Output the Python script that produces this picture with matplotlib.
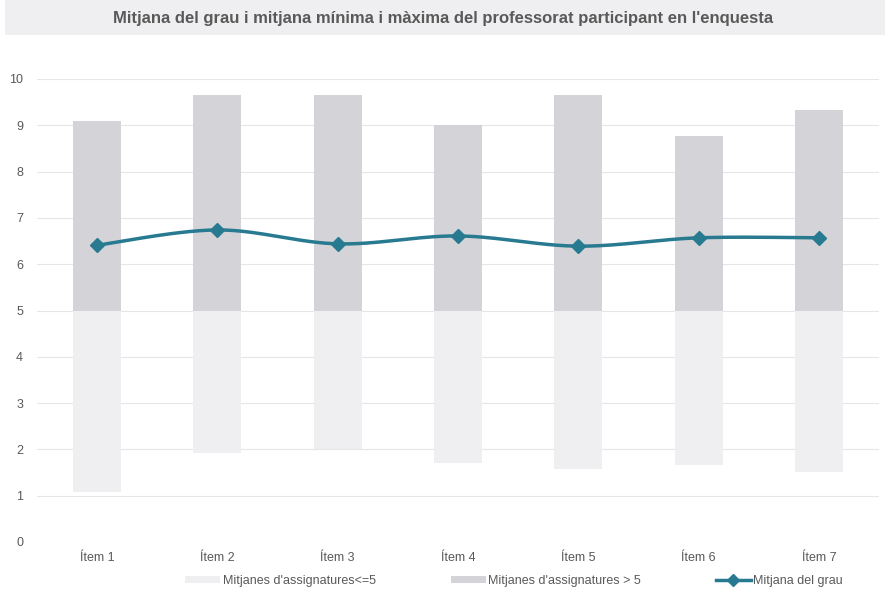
import numpy as np
import matplotlib
matplotlib.use("Agg")
import matplotlib.pyplot as plt
from matplotlib.lines import Line2D
from matplotlib.patches import Patch

plt.rcParams['font.family'] = ['Liberation Sans', 'DejaVu Sans']

categories = ["Ítem 1", "Ítem 2", "Ítem 3", "Ítem 4", "Ítem 5", "Ítem 6", "Ítem 7"]
min_mean = [1.08, 1.92, 2.0, 1.71, 1.58, 1.66, 1.51]
max_mean = [9.09, 9.65, 9.65, 9.0, 9.65, 8.77, 9.33]
grade_mean = [6.41, 6.74, 6.44, 6.61, 6.39, 6.57, 6.57]
threshold = 5
yticks = list(range(0, 11))

c_low = "#EFEFF1"
c_high = "#D4D4D8"
c_line = "#287A91"
c_text = "#595959"

fig = plt.figure(figsize=(8.87, 5.89), dpi=100)
# title band
fig.patches.append(plt.Rectangle((5/887, 1-35/589), 880/887, 35/589, transform=fig.transFigure,
                                 facecolor="#EFEFF1", edgecolor="none", zorder=0))
fig.text(0.5, 1-18/589, "Mitjana del grau i mitjana mínima i màxima del professorat participant en l'enquesta",
         ha="center", va="center", fontsize=12, fontweight="bold", color=c_text)

ax = fig.add_axes([37/887, 1-542/589, (879-37)/887, (542-79)/589])
x = np.arange(len(categories))
mn = np.array(min_mean)
mx = np.array(max_mean)
w = 0.4
ax.bar(x, threshold - mn, bottom=mn, width=w, color=c_low, zorder=2)
ax.bar(x, mx - threshold, bottom=threshold, width=w, color=c_high, zorder=2)

# smooth (Catmull-Rom) line through the means
def catmull(xs, ys, n=30):
    xs = np.asarray(xs, float); ys = np.asarray(ys, float)
    px = np.concatenate([[xs[0]], xs, [xs[-1]]])
    py = np.concatenate([[ys[0]], ys, [ys[-1]]])
    ox, oy = [], []
    for i in range(1, len(px) - 2):
        t = np.linspace(0, 1, n)
        p0, p1, p2, p3 = [(px[j], py[j]) for j in (i-1, i, i+1, i+2)]
        for k, arr in ((0, ox), (1, oy)):
            a0, a1, a2, a3 = p0[k], p1[k], p2[k], p3[k]
            v = 0.5 * ((2*a1) + (-a0 + a2)*t + (2*a0 - 5*a1 + 4*a2 - a3)*t**2 + (-a0 + 3*a1 - 3*a2 + a3)*t**3)
            arr.extend(v)
    return np.array(ox), np.array(oy)

sx, sy = catmull(x, grade_mean)
ax.plot(sx, sy, color=c_line, lw=2.5, zorder=3, solid_capstyle="round")
ax.plot(x, grade_mean, ls="none", marker="D", ms=7, color=c_line, zorder=4)

ax.set_xlim(-0.5, len(categories) - 0.5)
ax.set_ylim(0, 10)
ax.set_yticks(yticks)
ax.set_xticks(x)
ax.set_xticklabels(categories)
ax.grid(axis="y", color="#E6E6E6", lw=0.8, zorder=0)
ax.set_axisbelow(True)
for s in ax.spines.values():
    s.set_visible(False)
ax.tick_params(axis="both", length=0, labelsize=9, colors=c_text)
ax.tick_params(axis="y", pad=10)
ax.tick_params(axis="x", pad=7)

handles = [Patch(facecolor=c_low, edgecolor="none"),
           Patch(facecolor=c_high, edgecolor="none"),
           Line2D([0], [0], color=c_line, lw=2.5, marker="D", ms=6)]
labels = ["Mitjanes d'assignatures<=5", "Mitjanes d'assignatures > 5", "Mitjana del grau"]
leg = fig.legend(handles, labels, loc="center", bbox_to_anchor=(514/887, 1-581/589), ncol=3,
                 frameon=False, fontsize=9, columnspacing=6.0, handlelength=2.8, handleheight=0.5,
                 handletextpad=0.2, labelcolor=c_text)

fig.savefig("out.png", dpi=100, facecolor="white")
